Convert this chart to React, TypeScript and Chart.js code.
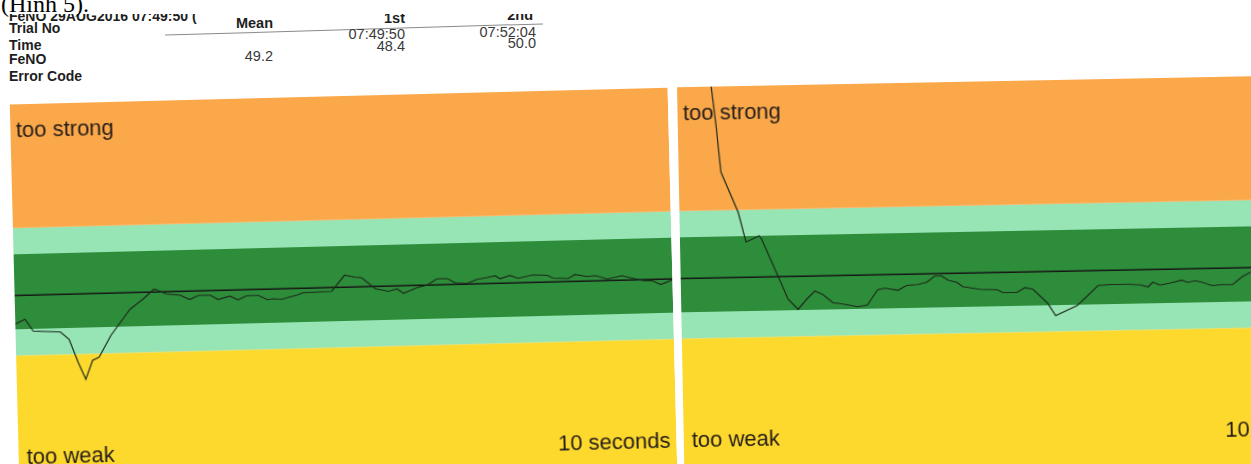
import React, { useEffect, useRef } from 'react';
import { Chart, registerables } from 'chart.js';

Chart.register(...registerables);

// ---- data ----
const bandFrom = [0, 42, 45.5, 55.5, 59];
const bandTo = [42, 45.5, 55.5, 59, 200];
const bandColors = ['#FDD92E', '#97E4B5', '#2E8D3A', '#97E4B5', '#FBA84A'];
const targetFlow = 50;
const timeRange = [0, 10];
const zoneLabels = ['too strong', 'too weak', '10 seconds'];

const leftTime = [0, 0.15, 0.27, 0.68, 0.81, 0.94, 1.05, 1.16, 1.26, 1.45, 1.75, 1.95, 2.12, 2.31, 2.51, 2.66, 2.79, 2.97, 3.09, 3.27, 3.39, 3.53, 3.7, 3.84, 3.93, 4.06, 4.19, 4.29, 4.38, 4.82, 5.02, 5.18, 5.28, 5.48, 5.68, 5.81, 5.91, 6.12, 6.27, 6.42, 6.58, 6.7, 6.88, 7.03, 7.18, 7.31, 7.38, 7.53, 7.66, 7.88, 8.1, 8.19, 8.42, 8.52, 8.71, 8.83, 9.01, 9.24, 9.36, 9.54, 9.7, 9.82, 10.0];
const leftFlow = [46.2, 46.8, 45.2, 45.0, 44.0, 40.9, 38.6, 41.1, 41.5, 44.4, 47.8, 49.1, 50.4, 49.7, 49.5, 48.9, 49.4, 49.4, 48.8, 49.2, 48.7, 49.2, 49.2, 48.6, 48.7, 48.6, 48.9, 49.1, 49.4, 49.5, 51.6, 51.3, 51.2, 49.7, 49.3, 49.6, 49.0, 49.7, 50.0, 50.8, 50.8, 50.2, 50.1, 50.6, 50.8, 51.0, 50.6, 51.0, 50.6, 51.0, 50.9, 50.5, 50.4, 50.9, 50.6, 50.7, 50.2, 50.6, 50.3, 49.9, 49.8, 49.3, 49.9];

const rightTime = [0.5, 0.58, 0.64, 0.89, 1.0, 1.2, 1.24, 1.45, 1.62, 1.77, 1.91, 2.03, 2.15, 2.3, 2.45, 2.67, 2.82, 2.98, 3.09, 3.29, 3.42, 3.59, 3.73, 3.85, 3.95, 4.05, 4.18, 4.27, 4.53, 4.79, 4.88, 5.09, 5.21, 5.33, 5.55, 5.67, 6.0, 6.15, 6.32, 6.5, 6.76, 6.95, 7.08, 7.15, 7.26, 7.44, 7.59, 7.68, 7.79, 7.89, 8.05, 8.17, 8.36, 8.52, 8.64];
const rightFlow = [77, 70.3, 64.1, 58.7, 54.7, 55.5, 55.0, 50.6, 47.0, 45.6, 47.0, 48.0, 47.5, 46.4, 46.2, 45.8, 46.0, 48.0, 48.2, 47.9, 48.5, 48.6, 48.9, 49.7, 49.7, 49.1, 48.8, 48.2, 47.8, 47.7, 47.3, 47.3, 47.9, 47.7, 45.8, 44.1, 45.4, 46.6, 48.0, 48.1, 48.1, 48.0, 47.7, 48.3, 47.9, 48.2, 48.5, 48.2, 48.4, 48.2, 47.7, 47.8, 47.8, 48.9, 49.4];

const trialColumns = ['Mean', '1st', '2nd'];
const trialTimes = ['', '07:49:50', '07:52:04'];
const trialFeno = ['49.2', '48.4', '50.0'];
const rowLabels = ['Trial No', 'Time', 'FeNO', 'Error Code'];

const LABEL_FONT = '22px "Liberation Sans", Arial, sans-serif';

const bandsPlugin = {
  id: 'fenoBands',
  beforeDatasetsDraw(chart: any) {
    const { ctx, chartArea: a, scales } = chart;
    const y = scales.y;
    ctx.save();
    for (let i = 0; i < bandFrom.length; i++) {
      const top = Math.max(a.top, y.getPixelForValue(bandTo[i]));
      const bot = Math.min(a.bottom, y.getPixelForValue(bandFrom[i]));
      if (bot > top) {
        ctx.fillStyle = bandColors[i];
        ctx.fillRect(a.left, top, a.right - a.left, bot - top);
      }
    }
    ctx.fillStyle = '#241d19';
    ctx.font = LABEL_FONT;
    ctx.textBaseline = 'alphabetic';
    ctx.textAlign = 'left';
    ctx.fillText(zoneLabels[0], a.left + 5.5, a.top + 33);
    ctx.fillText(zoneLabels[1], a.left + 8, a.top + 360);
    ctx.textAlign = 'right';
    ctx.fillText(zoneLabels[2], a.right - 6, a.top + 360);
    ctx.restore();
  },
};

type PanelProps = {
  times: number[];
  flows: number[];
  yMin: number;
  yMax: number;
  left: number;
  top: number;
  width: number;
  height: number;
  angle: number;
};

function FlowPanel(p: PanelProps) {
  const ref = useRef<HTMLCanvasElement | null>(null);
  useEffect(() => {
    if (!ref.current) return;
    const chart = new Chart(ref.current, {
      type: 'line',
      data: {
        datasets: [
          {
            label: 'flow',
            data: p.times.map((t, i) => ({ x: t, y: p.flows[i] })),
            borderColor: '#1c2a1c',
            borderWidth: 1.2,
            pointRadius: 0,
            tension: 0,
            fill: false,
          },
          {
            label: 'target',
            data: [
              { x: timeRange[0], y: targetFlow },
              { x: timeRange[1], y: targetFlow },
            ],
            borderColor: '#161616',
            borderWidth: 1.5,
            pointRadius: 0,
            fill: false,
          },
        ],
      },
      options: {
        animation: false,
        responsive: false,
        devicePixelRatio: 1,
        layout: { padding: 0 },
        plugins: { legend: { display: false }, tooltip: { enabled: false } },
        events: [],
        scales: {
          x: { type: 'linear', min: timeRange[0], max: timeRange[1], display: false },
          y: { type: 'linear', min: p.yMin, max: p.yMax, display: false },
        },
      },
      plugins: [bandsPlugin],
    } as any);
    return () => chart.destroy();
  }, []);
  return (
    <div
      style={{
        position: 'absolute',
        left: p.left,
        top: p.top,
        width: p.width,
        height: p.height,
        transform: `rotate(${p.angle}deg)`,
        transformOrigin: '50% 50%',
      }}
    >
      <canvas ref={ref} width={p.width} height={p.height} style={{ display: 'block', width: p.width, height: p.height }} />
    </div>
  );
}

const sans = '"Liberation Sans", Arial, sans-serif';

function T(props: { x: number; y: number; text: string; bold?: boolean; right?: boolean; size?: number; color?: string }) {
  const style: any = {
    position: 'absolute',
    top: props.y,
    fontFamily: sans,
    fontSize: props.size ?? (props.bold ? 14 : 14.5),
    fontWeight: props.bold ? 'bold' : 'normal',
    lineHeight: 1,
    whiteSpace: 'nowrap',
    color: props.color ?? (props.bold ? '#1e1e1e' : '#3a3a3a'),
  };
  if (props.right) {
    style.right = 1251 - props.x;
  } else {
    style.left = props.x;
  }
  return <div style={style}>{props.text}</div>;
}

export default function App() {
  return (
    <div
      style={{
        position: 'fixed',
        left: 0,
        top: 0,
        width: 1251,
        height: 464,
        overflow: 'hidden',
        background: '#ffffff',
      }}
    >
      {/* table */}
      <T x={9} y={9} text="FeNO 29AUG2016 07:49:50 (" bold size={14} />
      <T x={9} y={21} text={rowLabels[0]} bold />
      <T x={9} y={38} text={rowLabels[1]} bold />
      <T x={9} y={52} text={rowLabels[2]} bold />
      <T x={9} y={69} text={rowLabels[3]} bold />
      <T x={273} y={16} text={trialColumns[0]} bold right size={14.5} />
      <T x={405} y={11} text={trialColumns[1]} bold right size={14.5} />
      <T x={533} y={8} text={trialColumns[2]} bold right size={14.5} />
      <div
        style={{
          position: 'absolute',
          left: 165,
          top: 29,
          width: 378,
          height: 1,
          background: '#8a8a8a',
          transform: 'rotate(-1.7deg)',
        }}
      />
      <T x={405} y={27} text={trialTimes[1]} right />
      <T x={536} y={25} text={trialTimes[2]} right />
      <T x={273} y={49} text={trialFeno[0]} right />
      <T x={405} y={39} text={trialFeno[1]} right />
      <T x={536} y={36} text={trialFeno[2]} right />
      {/* cover of the cut line */}
      <div style={{ position: 'absolute', left: 0, top: 0, width: 600, height: 13.5, background: '#fff' }} />
      <div
        style={{
          position: 'absolute',
          left: 1,
          top: -8.5,
          fontFamily: '"Liberation Serif", "Times New Roman", serif',
          fontSize: 24,
          lineHeight: 1,
          color: '#000',
          whiteSpace: 'nowrap',
        }}
      >
        (Hình 5).
      </div>

      <FlowPanel times={leftTime} flows={leftFlow} yMin={19.5} yMax={75.5} left={15} top={96} width={658} height={420} angle={-1.45} />
      <FlowPanel times={rightTime} flows={rightFlow} yMin={19.5} yMax={75.5} left={681} top={81} width={660} height={420} angle={-1.1} />
    </div>
  );
}
